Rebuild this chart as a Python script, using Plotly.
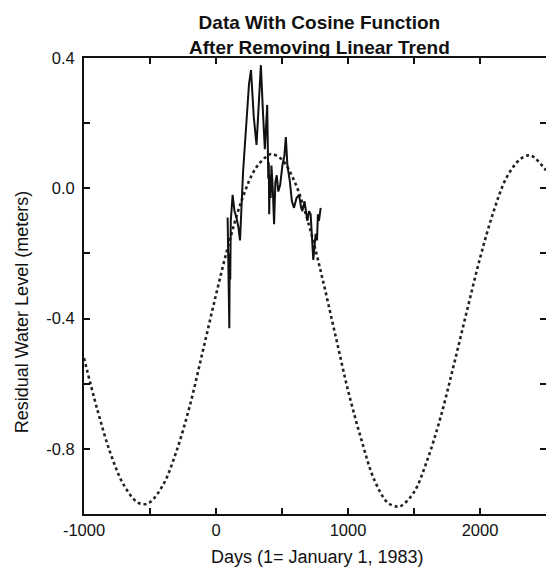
import plotly.graph_objects as go

# Observed residual water level (days since Jan 1 1983, meters)
obs_days = [88, 92, 95, 98, 101, 104, 108, 112, 118, 126, 140, 155, 170, 182, 205, 230,
            250, 265, 286, 307, 322, 340, 355, 370, 388, 392, 396, 400, 403, 408, 414,
            420, 430, 440, 450, 460, 472, 486, 503, 518, 529, 541, 560, 575, 591, 610,
            629, 645, 654, 671, 692, 705, 717, 737, 745, 755, 765, 772, 780, 793]
obs_level = [-0.09, -0.25, -0.15, -0.33, -0.43, -0.20, -0.28, -0.10, -0.06, -0.02, -0.07,
             -0.09, -0.12, -0.16, 0.05, 0.20, 0.32, 0.363, 0.22, 0.133, 0.25, 0.378, 0.24,
             0.12, 0.256, 0.10, 0.03, 0.08, -0.08, 0.04, -0.03, 0.07, 0.00, -0.11, 0.02,
             0.04, -0.01, 0.01, 0.07, 0.10, 0.157, 0.07, 0.02, -0.04, -0.06, -0.03, -0.02,
             -0.06, -0.07, -0.04, -0.10, -0.07, -0.08, -0.22, -0.18, -0.14, -0.16, -0.08,
             -0.10, -0.06]

# Fitted cosine curve
cos_days = [-1000, -900, -800, -700, -600, -547, -500, -400, -300, -200, -100, 0, 100,
            200, 300, 400, 425, 500, 600, 700, 800, 900, 1000, 1100, 1200, 1300, 1368,
            1400, 1500, 1600, 1700, 1800, 1900, 2000, 2100, 2200, 2300, 2364, 2400, 2500]
cos_level = [-0.521, -0.678, -0.813, -0.910, -0.963, -0.970, -0.964, -0.910, -0.808,
             -0.670, -0.500, -0.327, -0.165, -0.031, 0.061, 0.103, 0.105, 0.088, 0.016,
             -0.107, -0.266, -0.443, -0.620, -0.770, -0.896, -0.965, -0.977, -0.976,
             -0.933, -0.835, -0.705, -0.545, -0.378, -0.215, -0.075, 0.032, 0.088, 0.101,
             0.098, 0.055]

x_tickvals = [-1000, -500, 0, 500, 1000, 1500, 2000]
x_ticktext = ["-1000", "", "0", "", "1000", "", "2000"]
y_tickvals = [-1.0, -0.8, -0.6, -0.4, -0.2, 0.0, 0.2, 0.4]
y_ticktext = ["", "-0.8", "", "-0.4", "", "0.0", "", "0.4"]

FONT = "Liberation Sans, Arial, Helvetica, sans-serif"

fig = go.Figure()
fig.add_trace(go.Scatter(x=cos_days, y=cos_level, mode="lines",
                         line=dict(color="#222", width=2.6, dash="3px,3px", shape="spline"),
                         showlegend=False, hoverinfo="skip"))
fig.add_trace(go.Scatter(x=obs_days, y=obs_level, mode="lines",
                         line=dict(color="#111", width=2),
                         showlegend=False))

axis_common = dict(showline=True, linecolor="#111", linewidth=2, mirror="ticks",
                   ticks="inside", ticklen=6, tickwidth=1.5, tickcolor="#111",
                   showgrid=False, zeroline=False,
                   tickfont=dict(family=FONT, size=16.5, color="#111"))

fig.update_xaxes(range=[-1000, 2500], tickvals=x_tickvals, ticktext=x_ticktext,
                 **axis_common)
fig.update_yaxes(range=[-1.0, 0.4], tickvals=y_tickvals, ticktext=y_ticktext,
                 ticklabelstandoff=4, **axis_common)

fig.add_annotation(text="<b>Data With Cosine Function<br>After Removing Linear Trend</b>",
                   xref="paper", yref="paper", x=0.51, y=1.1055, xanchor="center",
                   yanchor="top", showarrow=False,
                   font=dict(family=FONT, size=19, color="#111"))
fig.add_annotation(text="Days (1= January 1, 1983)", xref="paper", yref="paper",
                   x=0.506, y=-0.094, xanchor="center", yanchor="middle", showarrow=False,
                   font=dict(family=FONT, size=18, color="#111"))
fig.add_annotation(text="Residual Water Level (meters)", xref="paper", yref="paper",
                   x=-0.1336, y=0.443, xanchor="center", yanchor="middle", textangle=-90,
                   showarrow=False, font=dict(family=FONT, size=18, color="#111"))

# page body has an 8px margin: size the figure so the frame lands where the reference has it
fig.update_layout(width=546, height=563, autosize=False,
                  margin=dict(l=76, r=6, t=50, b=57),
                  paper_bgcolor="white", plot_bgcolor="white")

fig.write_html("out.html")
